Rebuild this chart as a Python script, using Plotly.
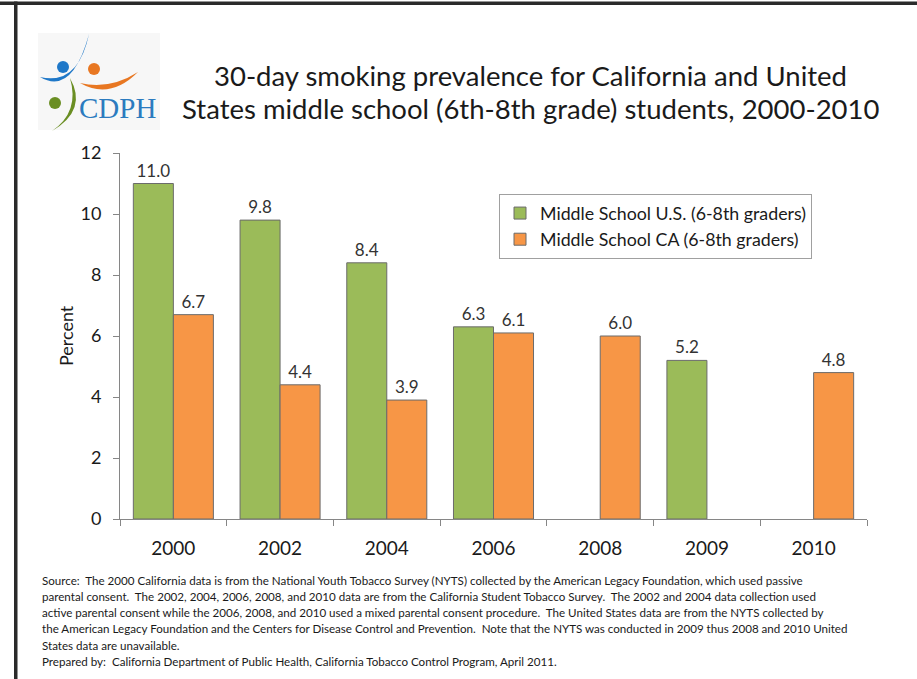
import plotly.graph_objects as go

W, H = 917, 679

years = ["2000", "2002", "2004", "2006", "2008", "2009", "2010"]
us_values = [11.0, 9.8, 8.4, 6.3, None, 5.2, None]
ca_values = [6.7, 4.4, 3.9, 6.1, 6.0, None, 4.8]
us_name = "Middle School U.S. (6-8th graders)"
ca_name = "Middle School CA (6-8th graders)"
y_ticks = [0, 2, 4, 6, 8, 10, 12]

title_lines = [
    "30-day smoking prevalence for California and United",
    "States middle school (6th-8th grade) students, 2000-2010",
]
source_lines = [
    "Source:  The 2000 California data is from the National Youth Tobacco Survey (NYTS) collected by the American Legacy Foundation, which used passive",
    "parental consent.  The 2002, 2004, 2006, 2008, and 2010 data are from the California Student Tobacco Survey.  The 2002 and 2004 data collection used",
    "active parental consent while the 2006, 2008, and 2010 used a mixed parental consent procedure.  The United States data are from the NYTS collected by",
    "the American Legacy Foundation and the Centers for Disease Control and Prevention.  Note that the NYTS was conducted in 2009 thus 2008 and 2010 United",
    "States data are unavailable.",
    "Prepared by:  California Department of Public Health, California Tobacco Control Program, April 2011.",
]

FONT = "Lato"
GREEN = "#9BBB59"
ORANGE = "#F79646"
AXIS = "#868686"


def px(x):
    return x / W


def py(y):
    return 1 - y / H


def path(pts):
    out = []
    for p in pts:
        cmd = p[0]
        coords = p[1:]
        vals = []
        for i in range(0, len(coords), 2):
            vals.append(f"{px(coords[i]):.4f},{py(coords[i+1]):.4f}")
        out.append(cmd + " " + " ".join(vals))
    return " ".join(out) + " Z"


def labels(vals):
    return [f"{v:.1f}" if v is not None else "" for v in vals]


fig = go.Figure()
fig.add_trace(go.Bar(
    x=years, y=us_values, name=us_name, legendgroup="us",
    marker=dict(color=GREEN, line=dict(color="#6b6b6b", width=1)),
    text=labels(us_values), textposition="outside", cliponaxis=False,
    textfont=dict(family=FONT, size=17, color="#333333"),
))
fig.add_trace(go.Bar(
    x=years, y=ca_values, name=ca_name, legendgroup="ca",
    marker=dict(color=ORANGE, line=dict(color="#6b6b6b", width=1)),
    text=labels(ca_values), textposition="outside", cliponaxis=False,
    textfont=dict(family=FONT, size=17, color="#333333"),
))

x0, x1 = 120, 867
yb, yt = 519, 153

annotations = []
for i, line in enumerate(title_lines):
    annotations.append(dict(
        x=px(530), y=py(75 + 33 * i), xref="paper", yref="paper",
        text=line, showarrow=False, xanchor="center", yanchor="middle",
        font=dict(family=FONT, size=27.5, color="#1a1a1a"),
    ))
for i, line in enumerate(source_lines):
    annotations.append(dict(
        x=px(40), y=py(580 + 16.3 * i), xref="paper", yref="paper",
        text=line, showarrow=False, xanchor="left", yanchor="middle",
        font=dict(family=FONT, size=11.6, color="#1a1a1a"),
    ))
annotations.append(dict(
    x=px(66), y=py(336), xref="paper", yref="paper", text="Percent",
    showarrow=False, textangle=-90, xanchor="center", yanchor="middle",
    font=dict(family=FONT, size=18, color="#1a1a1a"),
))
annotations.append(dict(
    x=px(117), y=py(108), xref="paper", yref="paper", text="CDPH",
    showarrow=False, xanchor="center", yanchor="middle",
    font=dict(family="Liberation Serif", size=29, color="#2b7bbf"),
))

shapes = [
    dict(type="rect", xref="paper", yref="paper", x0=px(0), x1=px(917),
         y0=py(5), y1=py(1.5), fillcolor="#2a2a2a", line=dict(width=0), layer="above"),
    dict(type="rect", xref="paper", yref="paper", x0=px(14), x1=px(17.5),
         y0=py(679), y1=py(1.5), fillcolor="#2a2a2a", line=dict(width=0), layer="above"),
    dict(type="rect", xref="paper", yref="paper", x0=px(38), x1=px(160),
         y0=py(130), y1=py(33), fillcolor="#f7f7f7", line=dict(width=0), layer="below"),
    dict(type="path", xref="paper", yref="paper", line=dict(width=0), fillcolor="#1f78c8",
         path=path([("M", 40, 77), ("Q", 72, 96, 89, 34), ("Q", 78, 86, 40, 77)])),
    dict(type="path", xref="paper", yref="paper", line=dict(width=0), fillcolor="#e87722",
         path=path([("M", 80, 83), ("Q", 110, 100, 138, 72), ("Q", 110, 90, 80, 83)])),
    dict(type="path", xref="paper", yref="paper", line=dict(width=0), fillcolor="#6a8e23",
         path=path([("M", 52, 131), ("Q", 88, 110, 70, 78), ("Q", 80, 112, 52, 131)])),
    dict(type="circle", xref="paper", yref="paper", x0=px(57), x1=px(69), y0=py(73), y1=py(61),
         fillcolor="#1f78c8", line=dict(width=0)),
    dict(type="circle", xref="paper", yref="paper", x0=px(88), x1=px(100), y0=py(75), y1=py(63),
         fillcolor="#e87722", line=dict(width=0)),
    dict(type="circle", xref="paper", yref="paper", x0=px(49), x1=px(61), y0=py(109), y1=py(97),
         fillcolor="#6a8e23", line=dict(width=0)),
]

fig.update_layout(
    width=W, height=H,
    margin=dict(l=0, r=0, t=0, b=0, autoexpand=False),
    paper_bgcolor="white", plot_bgcolor="white",
    barmode="group", bargap=0.25, bargroupgap=0,
    font=dict(family=FONT, color="#1a1a1a"),
    xaxis=dict(
        domain=[px(x0), px(x1)], type="category", automargin=False,
        showline=True, linecolor=AXIS, linewidth=1,
        ticks="outside", tickson="boundaries", ticklen=6, tickcolor=AXIS,
        tickfont=dict(family=FONT, size=19, color="#1a1a1a"),
        ticklabelstandoff=12, showgrid=False, zeroline=False,
    ),
    yaxis=dict(
        domain=[py(yb), py(yt)], range=[0, 12], tickvals=y_ticks, automargin=False,
        showline=True, linecolor=AXIS, linewidth=1,
        ticks="outside", ticklen=6, tickcolor=AXIS,
        tickfont=dict(family=FONT, size=18, color="#1a1a1a"),
        ticklabelstandoff=8, showgrid=False, zeroline=False,
    ),
    legend=dict(
        x=px(499), y=py(194), xanchor="left", yanchor="top",
        bordercolor="#a0a0a0", borderwidth=1, bgcolor="white",
        font=dict(family=FONT, size=17.8, color="#1a1a1a"),
        tracegroupgap=10, traceorder="normal",
    ),
    annotations=annotations,
    shapes=shapes,
)

fig.write_html(
    "out.html",
    config={"displayModeBar": False},
    post_script="document.body.style.margin='0';document.body.style.overflow='hidden';",
)
